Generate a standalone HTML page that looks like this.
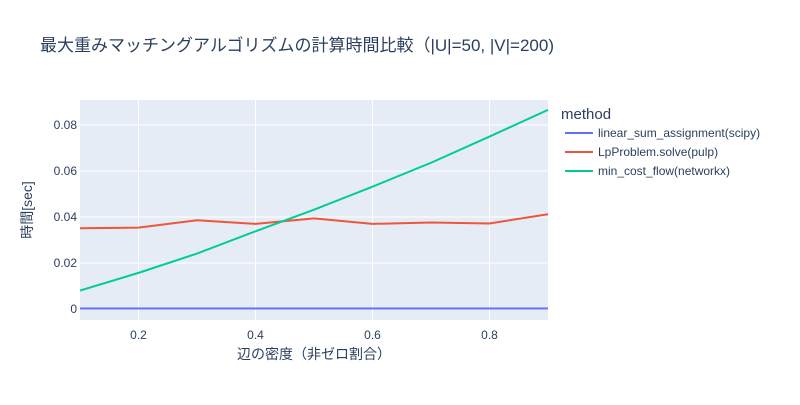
<!DOCTYPE html>
<html><head><meta charset="utf-8"><style>
body{margin:0;background:#fff;}
svg text{font-family:"Liberation Sans","Noto Sans CJK JP",sans-serif;fill:#2a3f5f;}
</style></head><body>
<svg id="chart" width="800" height="400" xmlns="http://www.w3.org/2000/svg">
<rect width="800" height="400" fill="#fff"/>
<text x="40" y="51" font-size="17">最大重みマッチングアルゴリズムの計算時間比較（|U|=50, |V|=200)</text>
<rect x="80" y="100" width="468" height="220" fill="#e5ecf6"/>
<g id="grid"></g>
<g id="series"></g>
<g id="ticks"></g>
<text x="314" y="359" font-size="14" text-anchor="middle">辺の密度（非ゼロ割合）</text>
<text transform="translate(32,210) rotate(-90)" font-size="14" text-anchor="middle">時間[sec]</text>
<text x="561" y="119" font-size="15">method</text>
<g id="legend"></g>
</svg>
<script>
const xs=[0.1,0.2,0.3,0.4,0.5,0.6,0.7,0.8,0.9];
const names=["linear_sum_assignment(scipy)","LpProblem.solve(pulp)","min_cost_flow(networkx)"];
const colors=["#636efa","#ef553b","#00cc96"];
const scipyVals=[0.0002,0.0002,0.0002,0.0002,0.0002,0.0002,0.0002,0.0002,0.0002];
const pulpVals=[0.0351,0.0354,0.0386,0.0370,0.0394,0.0370,0.0376,0.0372,0.0412];
const nxVals=[0.0080,0.0157,0.0241,0.0338,0.0432,0.0532,0.0636,0.0750,0.0866];
const xTicks=[0.2,0.4,0.6,0.8];
const yTicks=[0,0.02,0.04,0.06,0.08];
const yTickLabels=["0","0.02","0.04","0.06","0.08"];
const X0=80,X1=548,Y0=320,Y1=100,xmin=0.1,xmax=0.9,ymin=-0.0048,ymax=0.0909;
const sx=v=>X0+(v-xmin)/(xmax-xmin)*(X1-X0);
const sy=v=>Y0-(v-ymin)/(ymax-ymin)*(Y0-Y1);
const NS="http://www.w3.org/2000/svg";
function mk(tag,attrs,parent){const e=document.createElementNS(NS,tag);for(const k in attrs)e.setAttribute(k,attrs[k]);document.getElementById(parent).appendChild(e);return e;}
xTicks.forEach(t=>{
 const l=mk("line",{x1:sx(t),x2:sx(t),y1:Y1,y2:Y0,stroke:"#fff","stroke-width":1},"grid");
 
 
 const tx=mk("text",{x:sx(t),y:Y0+19,"font-size":12,"text-anchor":"middle"},"ticks");tx.textContent=t.toFixed(1);
 
 
});
yTicks.forEach((t,i)=>{
 const l=mk("line",{x1:X0,x2:X1,y1:sy(t),y2:sy(t),stroke:"#fff","stroke-width":t===0?2:1},"grid");
 
 
 const tx=mk("text",{x:X0-3,y:sy(t)+4,"font-size":12,"text-anchor":"end"},"ticks");tx.textContent=yTickLabels[i];
 
 
});
[scipyVals,pulpVals,nxVals].forEach((vals,i)=>{
 const p=mk("polyline",{points:xs.map((x,j)=>sx(x)+","+sy(vals[j])).join(" "),fill:"none",stroke:colors[i],"stroke-width":2},"series");
 
 
 const y=133+i*19;
 const ll=mk("line",{x1:565,x2:593,y1:y,y2:y,stroke:colors[i],"stroke-width":2},"legend");
 
 
 const lt=mk("text",{x:598,y:y+4,"font-size":12},"legend");lt.textContent=names[i];
 
 
});
</script>
</body></html>
